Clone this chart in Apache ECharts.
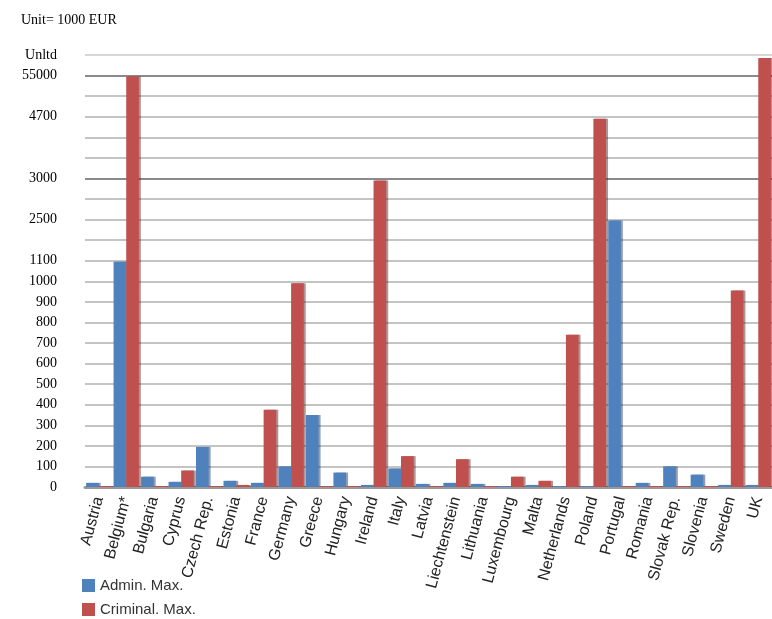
<!DOCTYPE html>
<html>
<head>
<meta charset="utf-8">
<script src="https://cdn.jsdelivr.net/npm/echarts@6/dist/echarts.min.js"></script>
<style>
  html, body { margin: 0; padding: 0; background: #fff; }
  #main { width: 772px; height: 619px; }
</style>
</head>
<body>
<div id="main"></div>
<script>
// countries along the x axis
var countries = ['Austria', 'Belgium*', 'Bulgaria', 'Cyprus', 'Czech Rep.', 'Estonia', 'France',
  'Germany', 'Greece', 'Hungary', 'Ireland', 'Italy', 'Latvia', 'Liechtenstein', 'Lithuania',
  'Luxembourg', 'Malta', 'Netherlands', 'Poland', 'Portugal', 'Romania', 'Slovak Rep.',
  'Slovenia', 'Sweden', 'UK'];

// the y axis of the original is not linear: one step per gridline, labelled like this
var stepLabels = ['0', '100', '200', '300', '400', '500', '600', '700', '800', '900', '1000', '1100',
  '', '2500', '', '3000', '', '', '4700', '', '55000', 'Unltd'];

// bar heights, in gridline steps
var adminMax = [0.2, 10.95, 0.5, 0.25, 1.95, 0.3, 0.2, 1.0, 3.5, 0.7, 0.1, 0.9, 0.15, 0.2, 0.15,
  0.05, 0.1, 0.05, 0.05, 12.95, 0.2, 1.0, 0.6, 0.1, 0.1];
var criminalMax = [0.05, 19.95, 0.05, 0.8, 0.05, 0.1, 3.75, 9.9, 0.05, 0.05, 14.9, 1.5, 0.05, 1.35,
  0.05, 0.5, 0.3, 7.4, 17.9, 0.05, 0.05, 0.05, 0.05, 9.55, 20.85];

var chartDom = document.getElementById('main');
var myChart = echarts.init(chartDom);
var option;

// darker lines at 3000 and 55000
var gridColors = stepLabels.map(function (l, i) {
  if (i === 15 || i === 20) return '#8a8a8a';
  if (i === 21) return '#d6d6d6';
  return '#c4c4c4';
});

option = {
  backgroundColor: '#fff',
  animation: false,
  title: {
    text: 'Unit= 1000 EUR',
    left: 16,
    top: 8,
    textStyle: {
      fontFamily: 'Liberation Serif',
      fontSize: 14,
      fontWeight: 'normal',
      color: '#000'
    }
  },
  legend: {
    orient: 'vertical',
    left: 82,
    top: 578,
    padding: 0,
    itemWidth: 13,
    itemHeight: 13,
    itemGap: 9,
    icon: 'rect',
    textStyle: {
      fontFamily: 'Liberation Sans',
      fontSize: 15,
      color: '#333'
    },
    data: ['Admin. Max.', 'Criminal. Max.']
  },
  grid: {
    left: 85,
    width: 691,
    top: 55,
    bottom: 132
  },
  xAxis: {
    type: 'category',
    data: countries,
    axisLine: { lineStyle: { color: '#999', width: 3 } },
    axisTick: { length: 5, lineStyle: { color: '#999' } },
    axisLabel: {
      interval: 0,
      rotate: 75,
      margin: 10,
      fontFamily: 'Liberation Sans',
      fontSize: 16,
      color: '#222'
    }
  },
  yAxis: {
    type: 'value',
    min: 0,
    max: 21,
    interval: 1,
    axisLine: { show: false },
    axisTick: { show: false },
    axisLabel: {
      margin: 28,
      fontFamily: 'Liberation Serif',
      fontSize: 14,
      color: '#000',
      formatter: function (v) {
        return stepLabels[Math.round(v)] || '';
      }
    },
    splitLine: {
      lineStyle: { color: gridColors, width: 2 }
    }
  },
  series: [
    {
      name: 'Admin. Max.',
      type: 'bar',
      data: adminMax,
      barGap: '0%',
      barCategoryGap: '8%',
      itemStyle: {
        color: '#4F81BD',
        shadowColor: 'rgba(20,40,80,0.45)',
        shadowOffsetX: 2,
        shadowBlur: 0
      }
    },
    {
      name: 'Criminal. Max.',
      type: 'bar',
      data: criminalMax,
      barGap: '0%',
      barCategoryGap: '8%',
      itemStyle: {
        color: '#C0504D',
        shadowColor: 'rgba(80,20,20,0.45)',
        shadowOffsetX: 2,
        shadowBlur: 0
      }
    }
  ]
};

option && myChart.setOption(option);
</script>
</body>
</html>
